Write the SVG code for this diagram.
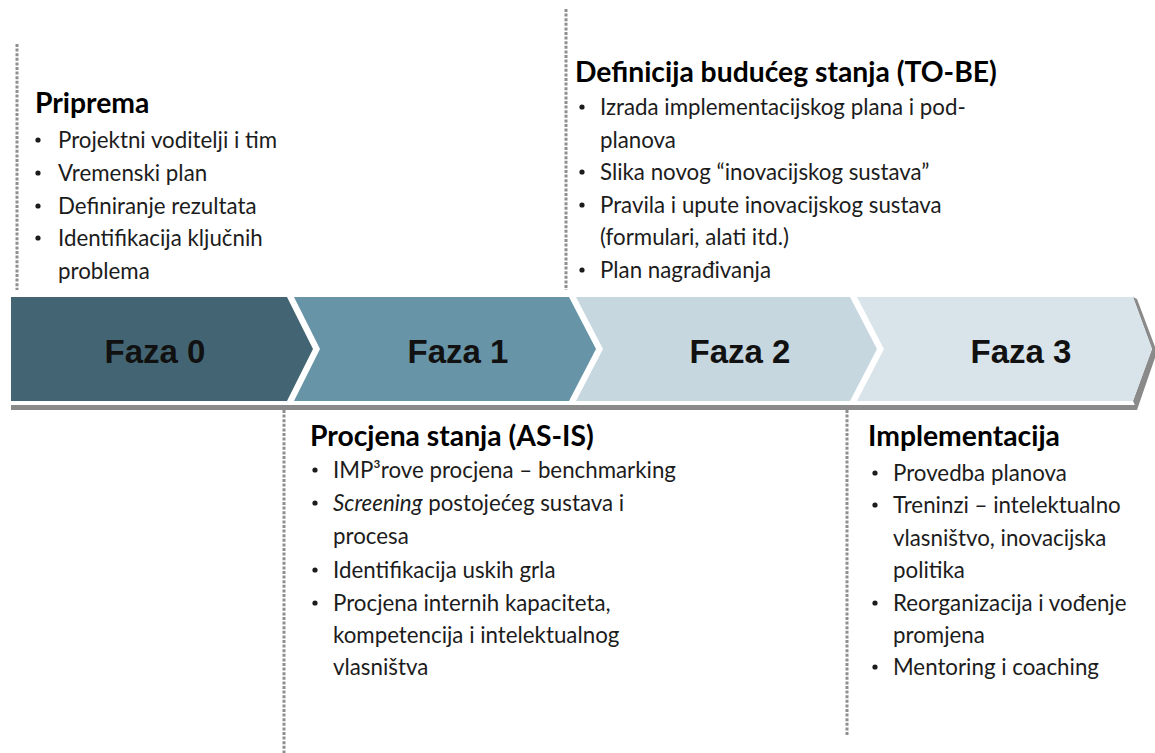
<svg xmlns="http://www.w3.org/2000/svg" width="1155" height="753" viewBox="0 0 1155 753">
<style>
.vline{stroke:#8f8f8f;stroke-width:3;stroke-dasharray:3 1.6;fill:none}
.lbl{font-family:"Liberation Sans",Arial,sans-serif;font-weight:bold;font-size:33px;fill:#111;text-anchor:middle}
.hd{font-family:Lato,"Open Sans",sans-serif;font-weight:bold;font-size:28.3px;fill:#000}
.tx{font-family:Lato,"Open Sans",sans-serif;font-size:22.3px;fill:#1c1c1c}
.b{fill:#1c1c1c}
</style>
<defs><circle id="dot" r="2.6"/></defs>
<rect width="1155" height="753" fill="#fff"/>
<g id="connectors">
<line class="vline" x1="17" y1="44" x2="17" y2="290"/>
<line class="vline" x1="284" y1="410" x2="284" y2="753"/>
<line class="vline" x1="566" y1="9" x2="566" y2="290"/>
<line class="vline" x1="847" y1="410" x2="847" y2="735"/>
</g>
<g id="band">
<rect x="11" y="405" width="1126" height="5" fill="#8a8a8a"/>
<polygon points="1133,297 1137,299 1157,352 1137,410 1133,401 1152,349" fill="#8a8a8a"/>
</g>
<g id="faza0">
<polygon points="11,297 287,297 313,349 287,401 11,401" fill="#436573"/>
<text class="lbl" x="155" y="363">Faza 0</text>
</g>
<g id="faza1">
<polygon points="294,297 569,297 596,349 569,401 294,401 320,349" fill="#6794a7"/>
<text class="lbl" x="458" y="363">Faza 1</text>
</g>
<g id="faza2">
<polygon points="576,297 850,297 877,349 850,401 576,401 603,349" fill="#c6d7df"/>
<text class="lbl" x="740" y="363">Faza 2</text>
</g>
<g id="faza3">
<polygon points="857,297 1133,297 1152,349 1133,401 857,401 884,349" fill="#d8e4ea"/>
<text class="lbl" x="1021" y="363">Faza 3</text>
</g>
<g id="priprema">
<text class="hd" x="35" y="113">Priprema</text>
<g class="b">
<use href="#dot" x="38" y="140"/><use href="#dot" x="38" y="173"/><use href="#dot" x="38" y="206"/><use href="#dot" x="38" y="238"/>
</g>
<g class="tx">
<text x="58" y="148">Projektni voditelji i tim</text>
<text x="58" y="181">Vremenski plan</text>
<text x="58" y="214">Definiranje rezultata</text>
<text x="58" y="246">Identifikacija ključnih</text>
<text x="58" y="279">problema</text>
</g>
</g>
<g id="procjena">
<text class="hd" x="310" y="446">Procjena stanja (AS-IS)</text>
<g class="b">
<use href="#dot" x="315" y="470"/><use href="#dot" x="315" y="503"/><use href="#dot" x="315" y="570"/><use href="#dot" x="315" y="603"/>
</g>
<g class="tx">
<text x="333" y="478">IMP³rove procjena – benchmarking</text>
<text x="333" y="511"><tspan font-style="italic">Screening</tspan> postojećeg sustava i</text>
<text x="333" y="544">procesa</text>
<text x="333" y="578">Identifikacija uskih grla</text>
<text x="333" y="611">Procjena internih kapaciteta,</text>
<text x="333" y="643">kompetencija i intelektualnog</text>
<text x="333" y="675">vlasništva</text>
</g>
</g>
<g id="definicija">
<text class="hd" x="575" y="82">Definicija budućeg stanja (TO-BE)</text>
<g class="b">
<use href="#dot" x="582" y="107"/><use href="#dot" x="582" y="172"/><use href="#dot" x="582" y="205"/><use href="#dot" x="582" y="270"/>
</g>
<g class="tx">
<text x="600" y="115">Izrada implementacijskog plana i pod-</text>
<text x="600" y="148">planova</text>
<text x="600" y="180">Slika novog “inovacijskog sustava”</text>
<text x="600" y="213">Pravila i upute inovacijskog sustava</text>
<text x="600" y="245">(formulari, alati itd.)</text>
<text x="600" y="278">Plan nagrađivanja</text>
</g>
</g>
<g id="implementacija">
<text class="hd" x="868" y="446">Implementacija</text>
<g class="b">
<use href="#dot" x="875" y="473"/><use href="#dot" x="875" y="505"/><use href="#dot" x="875" y="603"/><use href="#dot" x="875" y="667"/>
</g>
<g class="tx">
<text x="893" y="481">Provedba planova</text>
<text x="893" y="513">Treninzi – intelektualno</text>
<text x="893" y="546">vlasništvo, inovacijska</text>
<text x="893" y="578">politika</text>
<text x="893" y="611">Reorganizacija i vođenje</text>
<text x="893" y="643">promjena</text>
<text x="893" y="675">Mentoring i coaching</text>
</g>
</g>
</svg>
